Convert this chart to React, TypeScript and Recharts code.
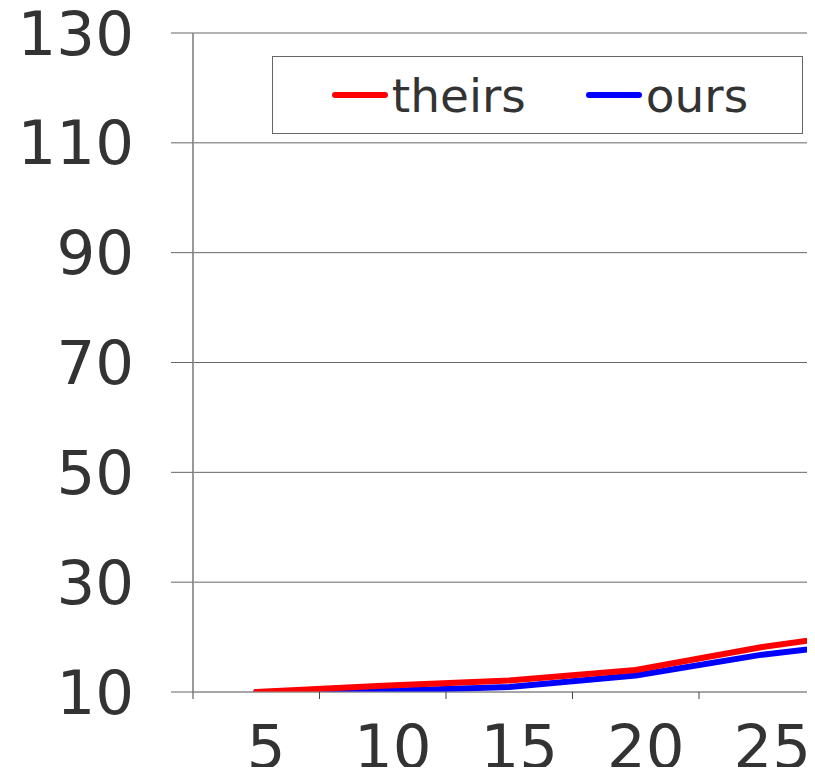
import React from 'react'
import { LineChart, Line, XAxis, YAxis, CartesianGrid, Legend } from 'recharts'

const steps = [5, 10, 15, 20, 25, 30]
const theirs = [10, 11.15, 12.1, 14.0, 18.2, 21.4]
const ours = [10, 10.2, 10.9, 13.0, 16.8, 19.4]
const yTicks = [10, 30, 50, 70, 90, 110, 130]
const xLabels = [5, 10, 15, 20, 25, 30]
// tick marks sit halfway between the labelled steps
const xMarks = [2.5, 7.5, 12.5, 17.5, 22.5, 27.5, 32.5]

const data = steps.map((s, i) => ({ step: s, theirs: theirs[i], ours: ours[i] }))
const xTicks = [...xMarks, ...xLabels].sort((a, b) => a - b)

const series = [
  { key: 'theirs', color: '#ff0000' },
  { key: 'ours', color: '#0000ff' },
]

const TEXT = '#333333'
const FONT = 61

// labelled steps get text, the in-between values get a short tick line
function StepTick({ x, y, payload }: any) {
  if (xLabels.includes(payload.value)) {
    return (
      <text x={x + 10} y={y + 76} textAnchor="middle" fontSize={FONT} fill={TEXT}>
        {payload.value}
      </text>
    )
  }
  return <line x1={x} x2={x} y1={y} y2={y + 7} stroke="#444" />
}

function LegendBox() {
  return (
    <div
      style={{
        boxSizing: 'border-box',
        width: '100%',
        height: '100%',
        border: '1px solid #666',
        background: '#fff',
        display: 'flex',
        alignItems: 'center',
        justifyContent: 'center',
        gap: 60,
        paddingLeft: 5,
      }}
    >
      {series.map((s) => (
        <div key={s.key} style={{ display: 'flex', alignItems: 'center' }}>
          <span
            style={{ display: 'block', width: 56, height: 6, borderRadius: 3, background: s.color, marginRight: 4 }}
          />
          <span style={{ fontSize: 47, lineHeight: 1, color: TEXT }}>{s.key}</span>
        </div>
      ))}
    </div>
  )
}

export default function App() {
  return (
    <div
      style={{
        width: 807,
        height: 767,
        marginBottom: -8,
        overflow: 'hidden',
        fontFamily: '"DejaVu Sans", sans-serif',
      }}
    >
      <LineChart width={944} height={767} data={data} margin={{ top: 25, right: 0, bottom: 0, left: 0 }}>
        <CartesianGrid horizontal vertical={false} stroke="#666" />
        <XAxis
          dataKey="step"
          type="number"
          domain={[2.5, 32.5]}
          ticks={xTicks}
          interval={0}
          minTickGap={0}
          allowDataOverflow
          tick={<StepTick />}
          tickLine={false}
          tickSize={0}
          tickMargin={0}
          height={83}
          axisLine={{ stroke: '#999' }}
        />
        <YAxis
          type="number"
          domain={[10, 130]}
          ticks={yTicks}
          interval={0}
          allowDataOverflow
          width={185}
          tickSize={22}
          tickMargin={37}
          tick={{ fontSize: FONT, fill: TEXT }}
          tickLine={{ stroke: '#666' }}
          axisLine={{ stroke: '#999', strokeWidth: 2 }}
        />
        <Legend
          layout="horizontal"
          verticalAlign="middle"
          align="center"
          wrapperStyle={{ left: 264, top: 48, width: 531, height: 78 }}
          content={() => <LegendBox />}
        />
        {/* blue first so the red line is painted over it */}
        <Line
          dataKey="ours"
          stroke="#0000ff"
          strokeWidth={6}
          strokeLinecap="round"
          strokeLinejoin="round"
          dot={false}
          isAnimationActive={false}
        />
        <Line
          dataKey="theirs"
          stroke="#ff0000"
          strokeWidth={6}
          strokeLinecap="round"
          strokeLinejoin="round"
          dot={false}
          isAnimationActive={false}
        />
      </LineChart>
    </div>
  )
}
